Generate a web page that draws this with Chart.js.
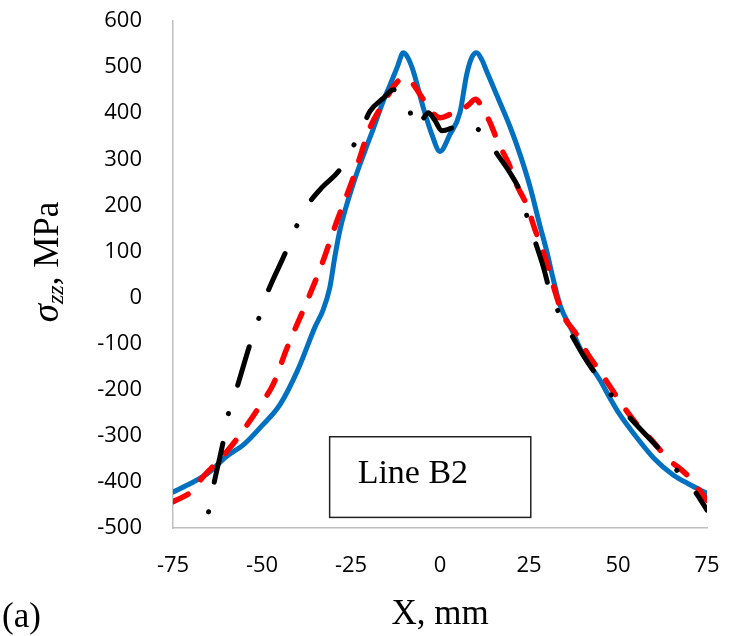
<!DOCTYPE html>
<html>
<head>
<meta charset="utf-8">
<script src="https://cdn.jsdelivr.net/npm/chart.js@4.4.0/dist/chart.umd.min.js"></script>
<style>
html,body{margin:0;padding:0;background:#fff;}
#wrap{width:740px;height:636px;position:relative;}
</style>
</head>
<body>
<div id="wrap"><canvas id="c" width="740" height="636"></canvas></div>
<script>
// ---- data ----
const xTickValues = [-75, -50, -25, 0, 25, 50, 75];
const yTickValues = [-500, -400, -300, -200, -100, 0, 100, 200, 300, 400, 500, 600];

const blueX = [-75, -70, -65, -60, -55, -50, -45, -40, -35, -33, -31, -29.5, -28, -24.4, -21, -18.8, -16, -14, -12, -10.3, -9, -7.5, -4.7, -2.3, 0, 2.8, 5.6, 7.5, 9, 10.3, 11.8, 13.1, 15.9, 19.7, 22.5, 25.3, 28.1, 30, 31.5, 33.7, 37, 40, 45, 47.8, 50, 56.2, 60, 65.5, 70, 75];
const blueY = [-422, -403, -380, -345, -318, -278, -233, -158, -62, -30, 20, 90, 150, 246, 320, 365, 425, 462, 500, 531, 520, 491, 412, 354, 317, 354, 401, 484, 522, 531, 515, 491, 440, 370, 310, 240, 155, 100, 50, -16, -70, -120, -180, -219, -248, -313, -348, -385, -405, -425];

const redX = [-75, -72, -70, -67, -64, -60, -56.2, -50, -46.9, -43, -37.4, -33.2, -29, -24.4, -19.7, -16, -12.6, -10.5, -8.4, -4.7, -2, 0, 3, 5.6, 8, 10, 12, 14.1, 16.4, 19.2, 21.5, 24.4, 26.7, 28.6, 30.9, 32.3, 34.6, 38.4, 41.7, 45, 50.6, 55, 59.9, 64, 68, 70, 72, 75];
const redY = [-443, -432, -422, -393, -368, -335, -298, -228, -189, -110, -9, 72, 165, 259, 368, 420, 462, 476, 470, 430, 400, 390, 398, 404, 418, 430, 410, 379, 335, 292, 245, 200, 147, 107, 53, 13, -38, -81, -125, -161, -226, -272, -313, -350, -375, -390, -410, -440];

const blackX = [-65, -63.7, -60.9, -59.5, -57.1, -53.4, -51.1, -48.7, -43.5, -40.7, -37.4, -33, -28.5, -24.8, -21.6, -19.7, -16, -13.1, -11, -9.1, -7, -5, -3.3, -1.5, 0.5, 4, 7.5, 10, 12.6, 16, 19.7, 23, 24.8, 27, 29, 30.9, 33.7, 37, 40.2, 45, 49.6, 53, 57, 62.3, 66, 69.3, 72, 75];
const blackY = [-465, -411, -313, -254, -197, -102, -50, 6, 96, 148, 198, 240, 274, 322, 372, 404, 432, 451, 440, 424, 367, 385, 401, 385, 362, 370, 380, 368, 354, 312, 270, 220, 165, 115, 67, 13, -38, -82, -125, -180, -226, -258, -291, -335, -370, -400, -425, -461];

const boxX = [-31, 25.5];
const boxY = [-302, -477];
const boxLabel = 'Line B2';
const xTitle = 'X, mm';
const panelLabel = '(a)';

const pts = (xs, ys) => xs.map((v, i) => ({x: v, y: ys[i]}));

const annot = {
  id: 'annot',
  afterDraw(chart) {
    const {ctx, scales: {x, y}, chartArea} = chart;
    ctx.save();
    const bx0 = x.getPixelForValue(boxX[0]), bx1 = x.getPixelForValue(boxX[1]);
    const by0 = y.getPixelForValue(boxY[0]), by1 = y.getPixelForValue(boxY[1]);
    ctx.strokeStyle = '#222';
    ctx.lineWidth = 1.5;
    ctx.strokeRect(bx0, by0, bx1 - bx0, by1 - by0);
    ctx.fillStyle = '#000';
    ctx.font = '34px "Liberation Serif"';
    ctx.textBaseline = 'alphabetic';
    ctx.textAlign = 'left';
    ctx.fillText(boxLabel, bx0 + 28, by0 + 46);
    ctx.font = '35px "Liberation Serif"';
    ctx.textAlign = 'center';
    ctx.fillText(xTitle, (chartArea.left + chartArea.right) / 2, 624);
    ctx.textAlign = 'left';
    ctx.fillText(panelLabel, 2, 627);
    ctx.translate(58, 262);
    ctx.rotate(-Math.PI / 2);
    const f1 = 'italic 37px "Liberation Serif"';
    const f2 = 'italic 24px "Liberation Serif"';
    const f3 = '35px "Liberation Serif"';
    ctx.font = f1; const w1 = ctx.measureText('σ').width;
    ctx.font = f2; const w2 = ctx.measureText('zz').width;
    ctx.font = f3; const w3 = ctx.measureText(', MPa').width;
    let cx = -(w1 + w2 + w3) / 2;
    ctx.font = f1; ctx.fillText('σ', cx, 0); cx += w1;
    ctx.font = f2; ctx.fillText('zz', cx, 5); cx += w2;
    ctx.font = f3; ctx.fillText(', MPa', cx, 0);
    ctx.restore();
  }
};

const tickFont = {family: '"Open Sans"', size: 22};

const chart = new Chart(document.getElementById('c'), {
  type: 'line',
  data: {
    datasets: [
      {label: 'black', data: pts(blackX, blackY), borderColor: '#000000', borderWidth: 5,
       borderDash: [0.1, 30, 40, 30], borderCapStyle: 'round', order: 0},
      {label: 'red', data: pts(redX, redY), borderColor: '#FF0000', borderWidth: 5.5,
       borderDash: [17, 19], borderCapStyle: 'round', order: 1},
      {label: 'blue', data: pts(blueX, blueY), borderColor: '#0070C0', borderWidth: 5,
       borderCapStyle: 'round', order: 2}
    ]
  },
  options: {
    responsive: false,
    animation: false,
    devicePixelRatio: 1,
    layout: {padding: {left: 96, right: 33, top: 21, bottom: 0}},
    elements: {point: {radius: 0}, line: {cubicInterpolationMode: 'monotone', borderJoinStyle: 'round'}},
    plugins: {legend: {display: false}, tooltip: {enabled: false}},
    scales: {
      x: {
        type: 'linear', min: -75, max: 75,
        afterBuildTicks: s => { s.ticks = xTickValues.map(v => ({value: v})); },
        afterFit: s => { s.height = 108; s.paddingLeft = 0; s.paddingRight = 0; },
        grid: {display: false, drawTicks: false},
        border: {display: true, color: '#BFBFBF', width: 1.5},
        ticks: {font: tickFont, color: '#000', padding: 25, maxRotation: 0}
      },
      y: {
        type: 'linear', min: -500, max: 600,
        afterBuildTicks: s => { s.ticks = yTickValues.map(v => ({value: v})); },
        afterFit: s => { s.width = 77; s.paddingTop = 0; s.paddingBottom = 0; },
        grid: {display: false, drawTicks: false},
        border: {display: true, color: '#BFBFBF', width: 1.5},
        ticks: {font: tickFont, color: '#000', padding: 31}
      }
    }
  },
  plugins: [annot]
});
</script>
</body>
</html>
